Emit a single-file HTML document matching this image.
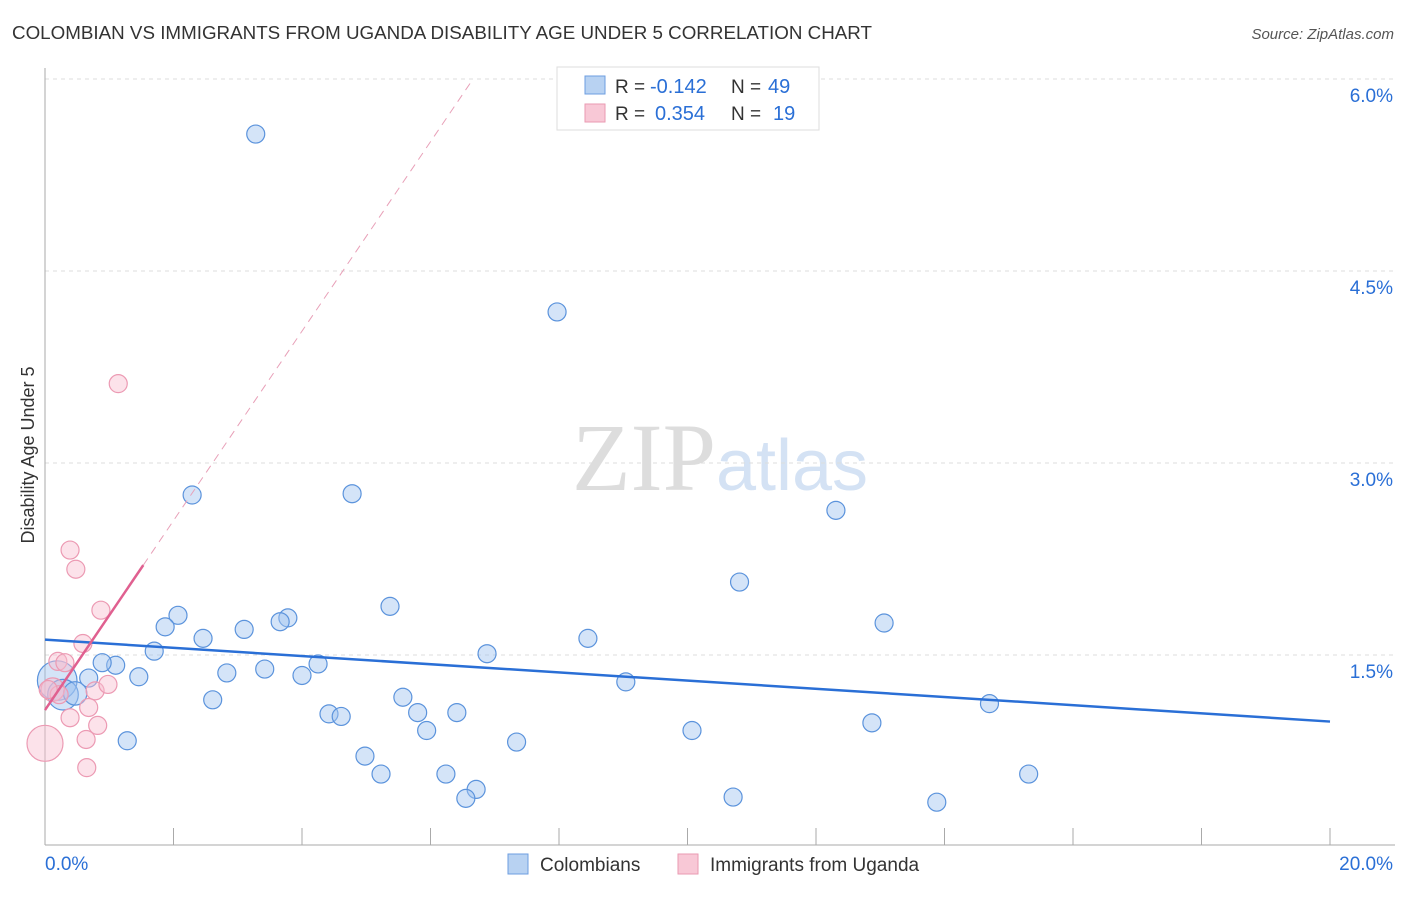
<!DOCTYPE html>
<html><head><meta charset="utf-8"><style>
body{margin:0;background:#fff;font-family:"Liberation Sans",sans-serif}
</style></head><body>
<svg width="1406" height="892" xmlns="http://www.w3.org/2000/svg" font-family="Liberation Sans, sans-serif">
<text x="12" y="39" font-size="18" fill="#333" textLength="860" lengthAdjust="spacingAndGlyphs">COLOMBIAN VS IMMIGRANTS FROM UGANDA DISABILITY AGE UNDER 5 CORRELATION CHART</text>
<text x="1394" y="39" font-size="15" fill="#555" font-style="italic" text-anchor="end">Source: ZipAtlas.com</text>
<text x="720" y="490" font-size="96" fill="#ddd" text-anchor="middle" font-family="Liberation Serif, serif">ZIP<tspan fill="#d4e2f4" font-family="Liberation Sans, sans-serif" font-size="72">atlas</tspan></text>
<g id="grid"></g><g id="axes"></g><g id="marks"></g>
<text transform="translate(34,455) rotate(-90)" font-size="18" fill="#333" text-anchor="middle">Disability Age Under 5</text>
<g>
<rect x="557" y="67" width="262" height="63" fill="#fff" stroke="#ddd"/>
<rect x="585" y="76" width="20" height="18" fill="#b8d2f2" stroke="#6d9ee0"/>
<text x="615" y="93" font-size="19" fill="#333">R =</text>
<text x="650" y="93" font-size="20" fill="#2a6fd6">-0.142</text>
<text x="731" y="93" font-size="19" fill="#333">N =</text>
<text x="768" y="93" font-size="20" fill="#2a6fd6">49</text>
<rect x="585" y="104" width="20" height="18" fill="#f8c8d6" stroke="#ea9ab2"/>
<text x="615" y="120" font-size="19" fill="#333">R =</text>
<text x="655" y="120" font-size="20" fill="#2a6fd6">0.354</text>
<text x="731" y="120" font-size="19" fill="#333">N =</text>
<text x="773" y="120" font-size="20" fill="#2a6fd6">19</text>
</g>
<g>
<rect x="508" y="854" width="20" height="20" fill="#b8d2f2" stroke="#6d9ee0"/>
<text x="540" y="871" font-size="19" fill="#333">Colombians</text>
<rect x="678" y="854" width="20" height="20" fill="#f8c8d6" stroke="#ea9ab2"/>
<text x="710" y="871" font-size="19" fill="#333">Immigrants from Uganda</text>
</g>
</svg>
<script>
const blueX=[3.28,7.97,2.29,4.78,12.31,10.81,5.37,2.07,1.87,3.78,3.66,13.06,3.10,2.46,8.45,1.70,6.88,1.10,0.89,4.25,3.42,2.83,1.46,0.68,4.00,9.04,5.57,2.61,14.70,4.42,4.61,5.80,6.41,12.87,5.94,10.07,1.28,7.34,4.98,5.23,6.24,15.31,6.71,6.55,10.71,13.88,0.19,0.28,0.47];
const blueY=[5.57,4.18,2.75,2.76,2.63,2.07,1.88,1.81,1.72,1.79,1.76,1.75,1.70,1.63,1.63,1.53,1.51,1.42,1.44,1.43,1.39,1.36,1.33,1.32,1.34,1.29,1.17,1.15,1.12,1.04,1.02,1.05,1.05,0.97,0.91,0.91,0.83,0.82,0.71,0.57,0.57,0.57,0.45,0.38,0.39,0.35,1.30,1.19,1.20];
const blueW=[1,1,1,1,1,1,1,1,1,1,1,1,1,1,1,1,1,1,1,1,1,1,1,1,1,1,1,1,1,1,1,1,1,1,1,1,1,1,1,1,1,1,1,1,1,1,2.2,1.7,1.3];
const pinkX=[1.14,0.39,0.48,0.87,0.59,0.20,0.31,0.12,0.78,0.98,0.39,0.68,0.82,0.64,0.65,0.0,0.22,0.05];
const pinkY=[3.62,2.32,2.17,1.85,1.59,1.45,1.44,1.23,1.22,1.27,1.01,1.09,0.95,0.84,0.62,0.81,1.19,1.23];
const pinkW=[1,1,1,1,1,1,1,1.3,1,1,1,1,1,1,1,2,1,1];
const blueTrend=[1.62,0.98];
const pinkTrend=[1.07,0.74];
const yTicks=[1.5,3.0,4.5,6.0];
const xTicks=[0,2,4,6,8,10,12,14,16,18,20];
const NS='http://www.w3.org/2000/svg';
const sx=v=>45+v/20*1285, sy=v=>847-v/1.5*192;
function mk(tag,attrs,parent){const e=document.createElementNS(NS,tag);for(const k in attrs)e.setAttribute(k,attrs[k]);document.getElementById(parent).appendChild(e);return e;}
yTicks.forEach(t=>{
 const l=mk('line',{x1:45,x2:1395,y1:sy(t),y2:sy(t),stroke:'#ddd','stroke-dasharray':'4,4'},'grid');
 
 
 const tx=mk('text',{x:1393,y:sy(t)+23,'font-size':19,fill:'#2a6fd6','text-anchor':'end'},'grid');
 tx.textContent=t.toFixed(1)+'%';
 
 
});
let a=mk('line',{x1:45,x2:45,y1:68,y2:845,stroke:'#aaa'},'axes');


a=mk('line',{x1:45,x2:1395,y1:845,y2:845,stroke:'#aaa'},'axes');


xTicks.forEach(t=>{
 const l=mk('line',{x1:sx(t),x2:sx(t),y1:828,y2:845,stroke:'#aaa'},'axes');
 
 
});
[[0,'0.0%','start',45],[20,'20.0%','end',1393]].forEach(d=>{
 const tx=mk('text',{x:d[3],y:870,'font-size':19,fill:'#2a6fd6','text-anchor':d[2]},'axes');
 tx.textContent=d[1];
 
 
});
blueX.forEach((x,i)=>{
 const c=mk('circle',{cx:sx(x),cy:sy(blueY[i]),r:9*blueW[i],fill:'rgba(160,195,240,0.45)',stroke:'#5b93dc','stroke-width':1.2},'marks');
 
 
});
pinkX.forEach((x,i)=>{
 const c=mk('circle',{cx:sx(x),cy:sy(pinkY[i]),r:9*pinkW[i],fill:'rgba(248,190,208,0.45)',stroke:'#ec9ab3','stroke-width':1.2},'marks');
 
 
});
let t=mk('line',{x1:sx(0),y1:sy(blueTrend[0]),x2:sx(20),y2:sy(blueTrend[1]),stroke:'#2a6fd6','stroke-width':2.5},'marks');


const pe=(6.0-pinkTrend[0])/pinkTrend[1];
t=mk('line',{x1:sx(1.53),y1:sy(pinkTrend[0]+pinkTrend[1]*1.53),x2:sx(pe),y2:sy(6.0),stroke:'#e8a0b8','stroke-width':1,'stroke-dasharray':'8,6'},'marks');


t=mk('line',{x1:sx(0),y1:sy(pinkTrend[0]),x2:sx(1.53),y2:sy(pinkTrend[0]+pinkTrend[1]*1.53),stroke:'#e06090','stroke-width':2.5},'marks');


</script>
</body></html>
